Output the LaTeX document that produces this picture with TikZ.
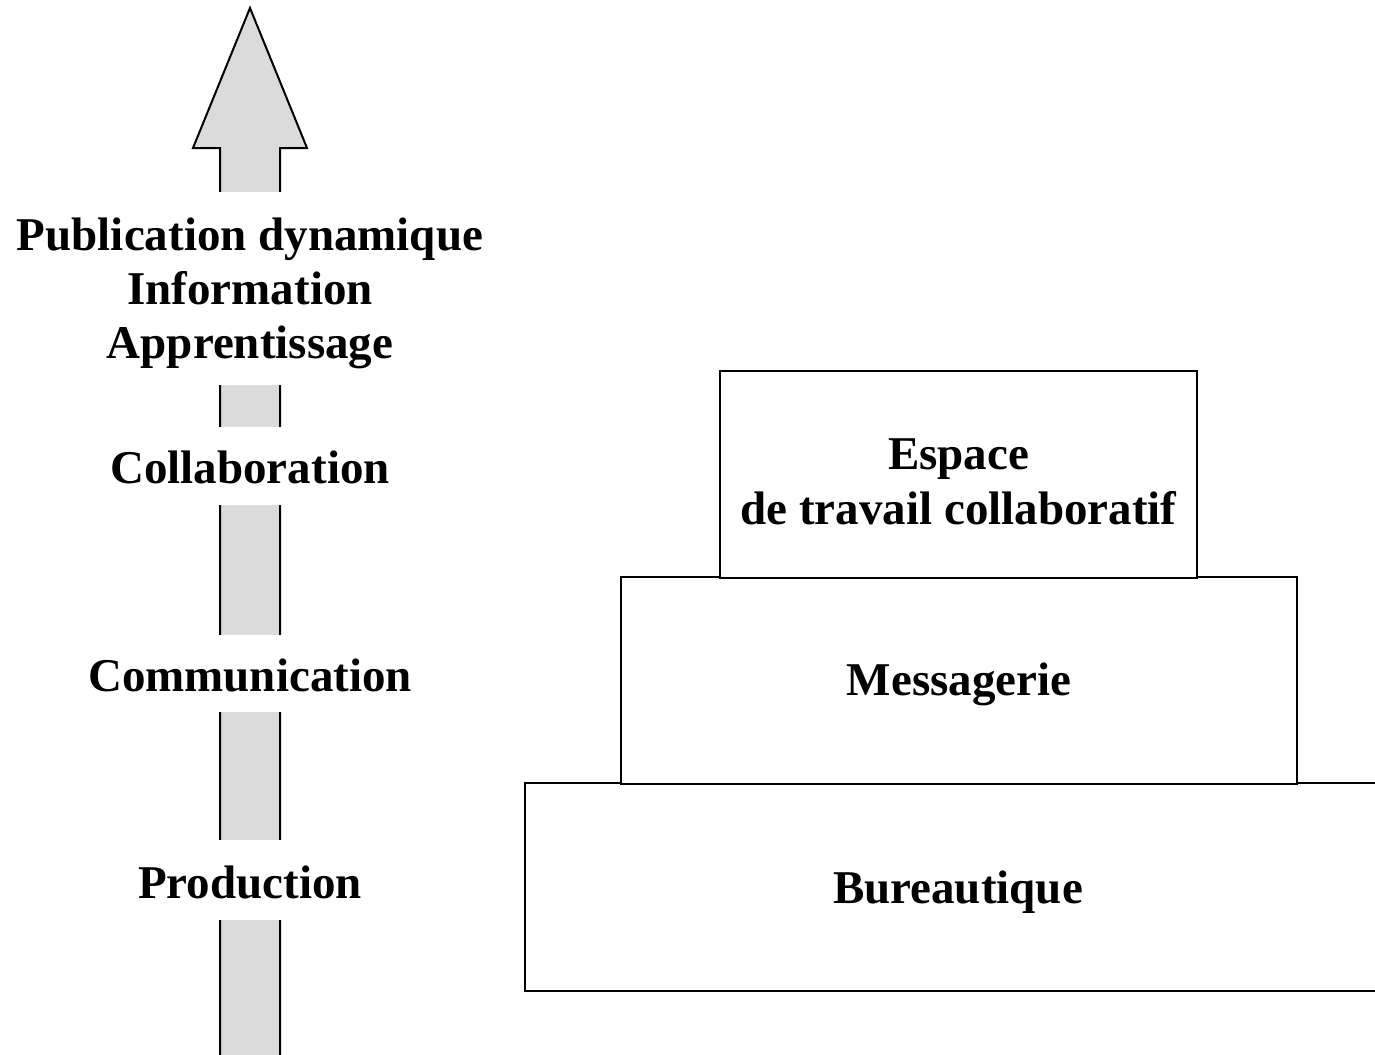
\documentclass[tikz,border=0pt]{standalone}
\usepackage{fontspec}
\setmainfont{Liberation Serif}
% set a line of text lower without changing its measured size
\newcommand\dropText[2]{\raisebox{-#1pt}[\height][\depth]{#2}}
\begin{document}
\begin{tikzpicture}[x=1pt,y=-1pt,
  every node/.style={font=\fontsize{47}{54}\selectfont\bfseries},
  label/.style={fill=white,inner sep=0pt,align=center},
  layer/.style={draw=black,line width=2pt,fill=white,inner sep=0pt},
  bigarrow/.style={draw=black,line width=2pt,fill=gray!28,line join=miter}]
  \useasboundingbox (0,0) rectangle (1375,1054);
  \clip (0,0) rectangle (1375,1054);
  \fill[white] (0,0) rectangle (1375,1054);

  % upward arrow
  \draw[bigarrow] (220,1070) -- (220,148) -- (193,148) -- (250,8)
    -- (307,148) -- (280,148) -- (280,1070);

  % labels along the arrow (their white boxes break the shaft)
  \node[label,minimum width=470,minimum height=193] (top) at (250,288.5)
    {\dropText{4.5}{Publication dynamique}\\\dropText{4.5}{Information}\\\dropText{4.5}{Apprentissage}};
  \node[label,minimum width=300,minimum height=78] (collab) at (250,466) {\dropText{1}{Collaboration}};
  \node[label,minimum width=330,minimum height=77] (comm) at (250,673.5) {\dropText{2}{Communication}};
  \node[label,minimum width=300,minimum height=80] (prod) at (250,880) {\dropText{2}{Production}};

  % stacked layers
  \node[layer,minimum width=866,minimum height=208] (bur) at (958,887) {\dropText{5}{Bureautique}};
  \node[layer,minimum width=676,minimum height=207] (msg) at (959,680) {\dropText{4}{Messagerie}};
  \node[layer,minimum width=477,minimum height=207,align=center,
        font=\fontsize{47}{55}\selectfont\bfseries] (esp) at (958.5,474)
    {\dropText{7.5}{Espace}\\\dropText{7.5}{de travail collaboratif}};
\end{tikzpicture}
\end{document}
